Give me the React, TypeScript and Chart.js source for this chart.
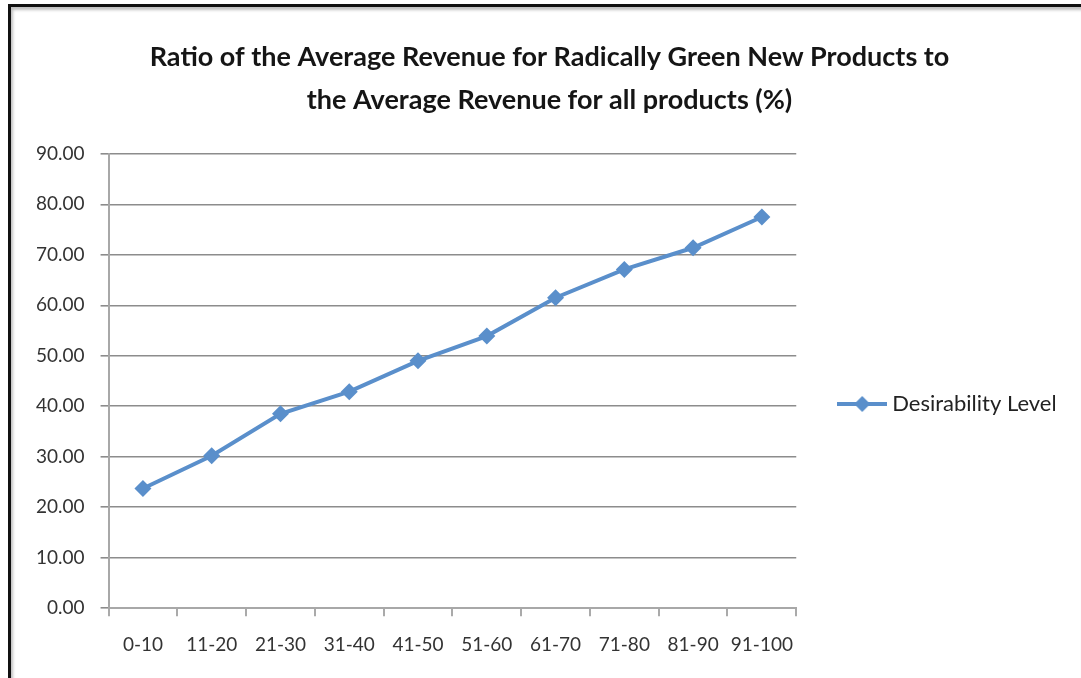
import React, { useEffect, useRef } from "react";
import { Chart, registerables } from "chart.js";

Chart.register(...registerables);

const categories = ["0-10", "11-20", "21-30", "31-40", "41-50", "51-60", "61-70", "71-80", "81-90", "91-100"];
const desirability = [23.7, 30.2, 38.5, 42.9, 49.0, 53.9, 61.5, 67.1, 71.4, 77.5];
const titleLines = [
  "Ratio of the Average Revenue for Radically Green New Products to",
  "the Average Revenue for all products (%)",
];
const seriesName = "Desirability Level";

const BLUE = "#5a8fcb";
const FONT = "Lato, 'Open Sans', sans-serif";

function legendIcon(): HTMLCanvasElement {
  const c = document.createElement("canvas");
  c.width = 50;
  c.height = 18;
  const ctx = c.getContext("2d")!;
  ctx.strokeStyle = BLUE;
  ctx.lineWidth = 4;
  ctx.beginPath();
  ctx.moveTo(0, 9);
  ctx.lineTo(50, 9);
  ctx.stroke();
  ctx.fillStyle = BLUE;
  ctx.beginPath();
  ctx.moveTo(25, 1);
  ctx.lineTo(33, 9);
  ctx.lineTo(25, 17);
  ctx.lineTo(17, 9);
  ctx.closePath();
  ctx.fill();
  return c;
}

const shiftTitle = {
  id: "shiftTitle",
  afterLayout(chart: any) {
    const t = chart.titleBlock;
    if (t) {
      t.left += 12;
      t.right += 12;
    }
  },
};

export default function App() {
  const ref = useRef<HTMLCanvasElement>(null);
  useEffect(() => {
    if (!ref.current) return;
    const icon = legendIcon();
    const chart = new Chart(ref.current, {
      type: "line",
      data: {
        labels: categories,
        datasets: [
          {
            label: seriesName,
            data: desirability,
            borderColor: BLUE,
            backgroundColor: BLUE,
            borderWidth: 4,
            pointStyle: "rectRot",
            pointRadius: 8.5,
            pointBorderWidth: 0,
            tension: 0,
          },
        ],
      },
      plugins: [shiftTitle],
      options: {
        animation: false,
        responsive: false,
        layout: { padding: { left: 20, right: 26, top: 0, bottom: 5 } },
        plugins: {
          title: {
            display: true,
            text: titleLines,
            color: "#151515",
            font: { family: FONT, size: 27, weight: "bold", lineHeight: 1.59 },
            padding: { top: 36, bottom: 32 },
          },
          legend: {
            position: "right",
            title: {
              display: true,
              text: " ",
              font: { size: 10, lineHeight: 1 },
              padding: { top: 125, bottom: 0 },
            },
            labels: {
              usePointStyle: true,
              pointStyle: icon as any,
              pointStyleWidth: 38,
              color: "#222",
              font: { family: FONT, size: 22 },
              padding: 47,
              generateLabels: () => [
                {
                  text: seriesName,
                  pointStyle: icon as any,
                  fillStyle: BLUE,
                  strokeStyle: BLUE,
                  lineWidth: 0,
                  hidden: false,
                  datasetIndex: 0,
                  fontColor: "#222",
                } as any,
              ],
            },
          },
          tooltip: { enabled: false },
        },
        scales: {
          x: {
            offset: true,
            grid: {
              offset: true,
              drawOnChartArea: false,
              drawTicks: true,
              tickLength: 8,
              color: "#aaa",
              lineWidth: 2,
            },
            border: { color: "#a8a8a8", width: 2 },
            ticks: {
              color: "#333",
              font: { family: FONT, size: 19 },
              padding: 17,
              maxRotation: 0,
            },
          },
          y: {
            min: 0,
            max: 90,
            grid: {
              color: "#8c8c8c",
              lineWidth: 1.6,
              tickLength: 8,
            },
            border: { color: "#a8a8a8", width: 2 },
            ticks: {
              stepSize: 10,
              color: "#333",
              font: { family: FONT, size: 19 },
              padding: 16,
              callback: (v: any) => Number(v).toFixed(2),
            },
          },
        },
      },
    });
    return () => chart.destroy();
  }, []);

  return (
    <div style={{ position: "fixed", left: 0, top: 0, width: 1081, height: 678, background: "#fff" }}>
      <canvas ref={ref} width={1081} height={678} style={{ position: "absolute", left: 0, top: 0 }} />
      <div
        style={{
          position: "absolute",
          left: 8,
          top: 4,
          width: 1081 - 8 - 3,
          height: 678 - 4 - 3,
          borderTop: "3px solid #111",
          borderLeft: "3px solid #111",
          borderBottom: "2px solid #ccc",
          boxShadow: "inset 2px 3px 3px rgba(0,0,0,0.25)",
          pointerEvents: "none",
        }}
      />
    </div>
  );
}
